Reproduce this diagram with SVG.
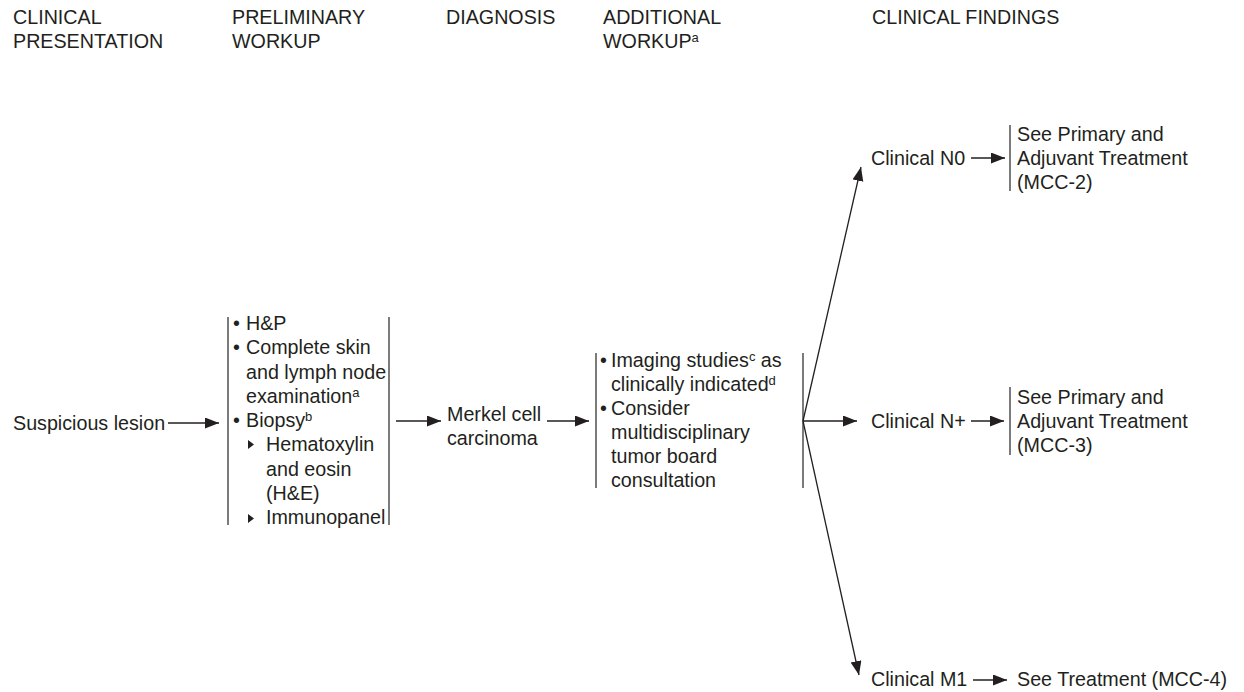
<svg xmlns="http://www.w3.org/2000/svg" width="1244" height="692" viewBox="0 0 1244 692">
<defs>
<style>
text{font-family:"Liberation Sans",Arial,Helvetica,sans-serif;font-size:19.7px;fill:#231f20}
.sup{font-size:13px}
.br{stroke:#444444;stroke-width:1.4;fill:none}
.ar{stroke:#231f20;stroke-width:1.3;fill:none;marker-end:url(#ah)}
.tri{fill:#231f20}
</style>
<marker id="ah" markerUnits="userSpaceOnUse" markerWidth="15" markerHeight="12" refX="14" refY="5.5" orient="auto">
<path d="M0,0 L14,5.5 L0,11 z" fill="#231f20"/>
</marker>
</defs>
<rect width="1244" height="692" fill="#ffffff"/>

<g id="headers">
<text x="13" y="24">CLINICAL</text>
<text x="13" y="48">PRESENTATION</text>
<text x="232" y="24">PRELIMINARY</text>
<text x="232" y="48">WORKUP</text>
<text x="446" y="24">DIAGNOSIS</text>
<text x="603" y="24">ADDITIONAL</text>
<text x="603" y="48">WORKUP<tspan class="sup" dy="-6">a</tspan></text>
<text x="872" y="24">CLINICAL FINDINGS</text>
</g>

<g id="node-suspicious">
<text x="13" y="430">Suspicious lesion</text>
</g>

<g id="node-prelim">
<line class="br" x1="228" y1="317" x2="228" y2="525"/>
<line class="br" x1="389" y1="317" x2="389" y2="525"/>
<text x="233" y="330">•</text><text x="246" y="330">H&amp;P</text>
<text x="233" y="354">•</text><text x="246" y="354">Complete skin</text>
<text x="246" y="379">and lymph node</text>
<text x="246" y="403">examination<tspan class="sup" dy="-6">a</tspan></text>
<text x="233" y="427">•</text><text x="246" y="427">Biopsy<tspan class="sup" dy="-6">b</tspan></text>
<polygon class="tri" points="248,440 248,449 254,444.5"/>
<text x="266" y="451">Hematoxylin</text>
<text x="266" y="476">and eosin</text>
<text x="266" y="500">(H&amp;E)</text>
<polygon class="tri" points="248,514 248,523 254,518.5"/>
<text x="266" y="524">Immunopanel</text>
</g>

<g id="node-diagnosis">
<text x="447" y="421">Merkel cell</text>
<text x="447" y="445">carcinoma</text>
</g>

<g id="node-additional">
<line class="br" x1="596" y1="353" x2="596" y2="488"/>
<line class="br" x1="803" y1="353" x2="803" y2="488"/>
<text x="600" y="367">•</text><text x="611" y="367">Imaging studies<tspan class="sup" dy="-6">c</tspan><tspan dy="6"> as</tspan></text>
<text x="611" y="391">clinically indicated<tspan class="sup" dy="-6">d</tspan></text>
<text x="600" y="415">•</text><text x="611" y="415">Consider</text>
<text x="611" y="439">multidisciplinary</text>
<text x="611" y="463">tumor board</text>
<text x="611" y="487">consultation</text>
</g>

<g id="node-n0">
<text x="871" y="165">Clinical N0</text>
</g>
<g id="node-n0-tx">
<line class="br" x1="1010" y1="125" x2="1010" y2="191"/>
<text x="1017" y="141">See Primary and</text>
<text x="1017" y="165">Adjuvant Treatment</text>
<text x="1017" y="189">(MCC-2)</text>
</g>

<g id="node-nplus">
<text x="871" y="428">Clinical N+</text>
</g>
<g id="node-nplus-tx">
<line class="br" x1="1010" y1="387" x2="1010" y2="455"/>
<text x="1017" y="404">See Primary and</text>
<text x="1017" y="428">Adjuvant Treatment</text>
<text x="1017" y="452">(MCC-3)</text>
</g>

<g id="node-m1">
<text x="871" y="686">Clinical M1</text>
</g>
<g id="node-m1-tx">
<text x="1017" y="686">See Treatment (MCC-4)</text>
</g>

<g id="connectors">
<line class="ar" x1="168" y1="423" x2="219" y2="423"/>
<line class="ar" x1="396" y1="421" x2="441" y2="421"/>
<line class="ar" x1="547" y1="421" x2="589" y2="421"/>
<line class="ar" x1="803" y1="421" x2="861" y2="167"/>
<line class="ar" x1="803" y1="421" x2="857" y2="421"/>
<line class="ar" x1="803" y1="421" x2="859" y2="675"/>
<line class="ar" x1="971" y1="158" x2="1005" y2="158"/>
<line class="ar" x1="971" y1="421" x2="1004" y2="421"/>
<line class="ar" x1="973" y1="680" x2="1007" y2="680"/>
</g>
</svg>
